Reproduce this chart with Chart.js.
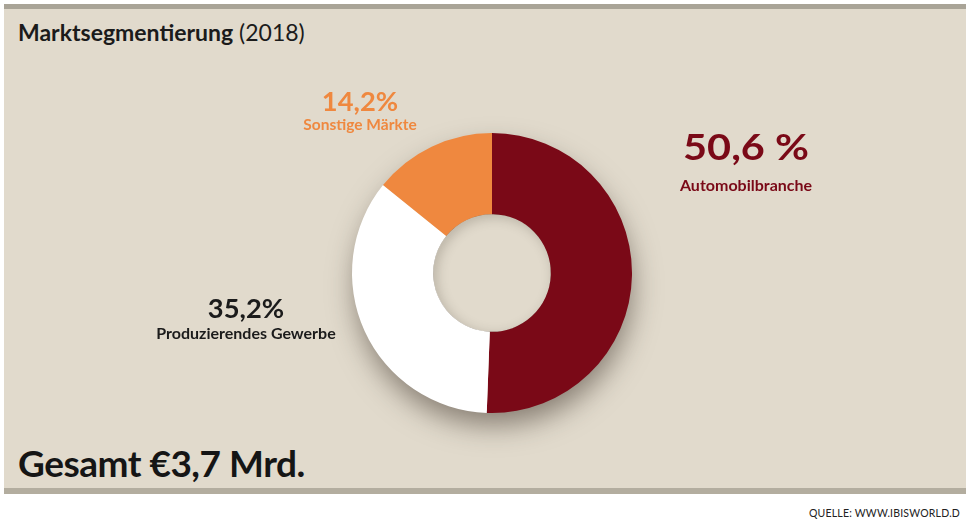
<!DOCTYPE html>
<html>
<head>
<meta charset="utf-8">
<script src="https://cdn.jsdelivr.net/npm/chart.js@4/dist/chart.umd.min.js"></script>
<style>
  html, body { margin: 0; padding: 0; background: #ffffff; }
  #wrap { position: relative; width: 966px; height: 521px; overflow: hidden; font-family: Lato, "Open Sans", sans-serif; }
  #panel { position: absolute; left: 4px; top: 4px; width: 962px; height: 490px; background: #e1dacc;
           border-top: 5px solid #a9a497; border-bottom: 6px solid #b3ad9f; box-sizing: border-box; }
  #title { position: absolute; left: 18px; top: 18px; font-size: 23px; color: #1b1b1b; }
  #title b { font-weight: 700; }
  #total { position: absolute; left: 18px; top: 440px; font-size: 37px; font-weight: 700; color: #151515; letter-spacing: -0.5px; }
  #source { position: absolute; right: 6px; top: 507px; font-size: 10.5px; color: #222; letter-spacing: 0.2px; }
  canvas { position: absolute; left: 0; top: 0; }
</style>
</head>
<body>
<div id="wrap">
  <div id="panel"></div>
  <div id="title"><b>Marktsegmentierung</b> (2018)</div>
  <div id="total">Gesamt €3,7 Mrd.</div>
  <div id="source">QUELLE: WWW.IBISWORLD.D</div>
  <canvas id="c" width="966" height="521"></canvas>
</div>
<script>
// Daten
const segmente = ["Automobilbranche", "Produzierendes Gewerbe", "Sonstige Märkte"];
const anteile = [50.6, 35.2, 14.2];
const prozentText = ["50,6 %", "35,2%", "14,2%"];
const farben = ["#7a0917", "#ffffff", "#ef883f"];

// Beschriftungen (Position relativ zum Kreismittelpunkt)
const labelPos = [
  { dx: 254, dy: -113, gap: 31, size1: 37, size2: 16, color: "#7a0917", sx: 1.12 },
  { dx: -246, dy: 45, gap: 21, size1: 26, size2: 16, color: "#1b1b1b", sx: 1.05 },
  { dx: -132, dy: -162, gap: 19, size1: 26, size2: 15.5, color: "#ef883f", sx: 1.05 }
];

const schattenPlugin = {
  id: "schatten",
  beforeDatasetsDraw(chart) {
    const arc = chart.getDatasetMeta(0).data[0];
    if (!arc) return;
    const ctx = chart.ctx;
    ctx.save();
    ctx.shadowColor = "rgba(60,50,40,0.55)";
    ctx.shadowBlur = 28;
    ctx.shadowOffsetY = 14;
    ctx.shadowOffsetX = 2;
    ctx.fillStyle = "#e1dacc";
    ctx.beginPath();
    ctx.arc(arc.x, arc.y, arc.outerRadius - 2, 0, Math.PI * 2);
    ctx.fill();
    ctx.restore();
  },
  afterDatasetsDraw(chart) {
    const arc = chart.getDatasetMeta(0).data[0];
    if (!arc) return;
    const ctx = chart.ctx;
    // innerer Schatten im Loch
    ctx.save();
    ctx.beginPath();
    ctx.arc(arc.x, arc.y, arc.innerRadius, 0, Math.PI * 2);
    ctx.clip();
    ctx.shadowColor = "rgba(60,50,40,0.5)";
    ctx.shadowBlur = 12;
    ctx.shadowOffsetX = 3;
    ctx.shadowOffsetY = 3;
    ctx.lineWidth = 12;
    ctx.strokeStyle = "rgba(60,50,40,0.5)";
    ctx.beginPath();
    ctx.arc(arc.x, arc.y, arc.innerRadius + 6, 0, Math.PI * 2);
    ctx.stroke();
    ctx.restore();

    // Texte
    ctx.save();
    ctx.textAlign = "center";
    ctx.textBaseline = "alphabetic";
    labelPos.forEach((p, i) => {
      const x = arc.x + p.dx, y = arc.y + p.dy;
      ctx.fillStyle = p.color;
      ctx.save();
      ctx.translate(x, y);
      ctx.scale(p.sx, 1);
      ctx.font = "700 " + p.size1 + "px Lato, 'Open Sans', sans-serif";
      ctx.fillText(prozentText[i], 0, 0);
      ctx.restore();
      ctx.font = "700 " + p.size2 + "px Lato, 'Open Sans', sans-serif";
      ctx.fillText(segmente[i], x, y + p.gap);
    });
    ctx.restore();
  }
};

new Chart(document.getElementById("c"), {
  type: "doughnut",
  data: {
    labels: segmente,
    datasets: [{
      data: anteile,
      backgroundColor: farben,
      borderWidth: 0,
      hoverOffset: 0
    }]
  },
  options: {
    responsive: false,
    animation: false,
    cutout: "42%",
    layout: { padding: { left: 352, right: 334, top: 133, bottom: 108 } },
    plugins: {
      legend: { display: false },
      tooltip: { enabled: false }
    }
  },
  plugins: [schattenPlugin]
});
</script>
</body>
</html>
